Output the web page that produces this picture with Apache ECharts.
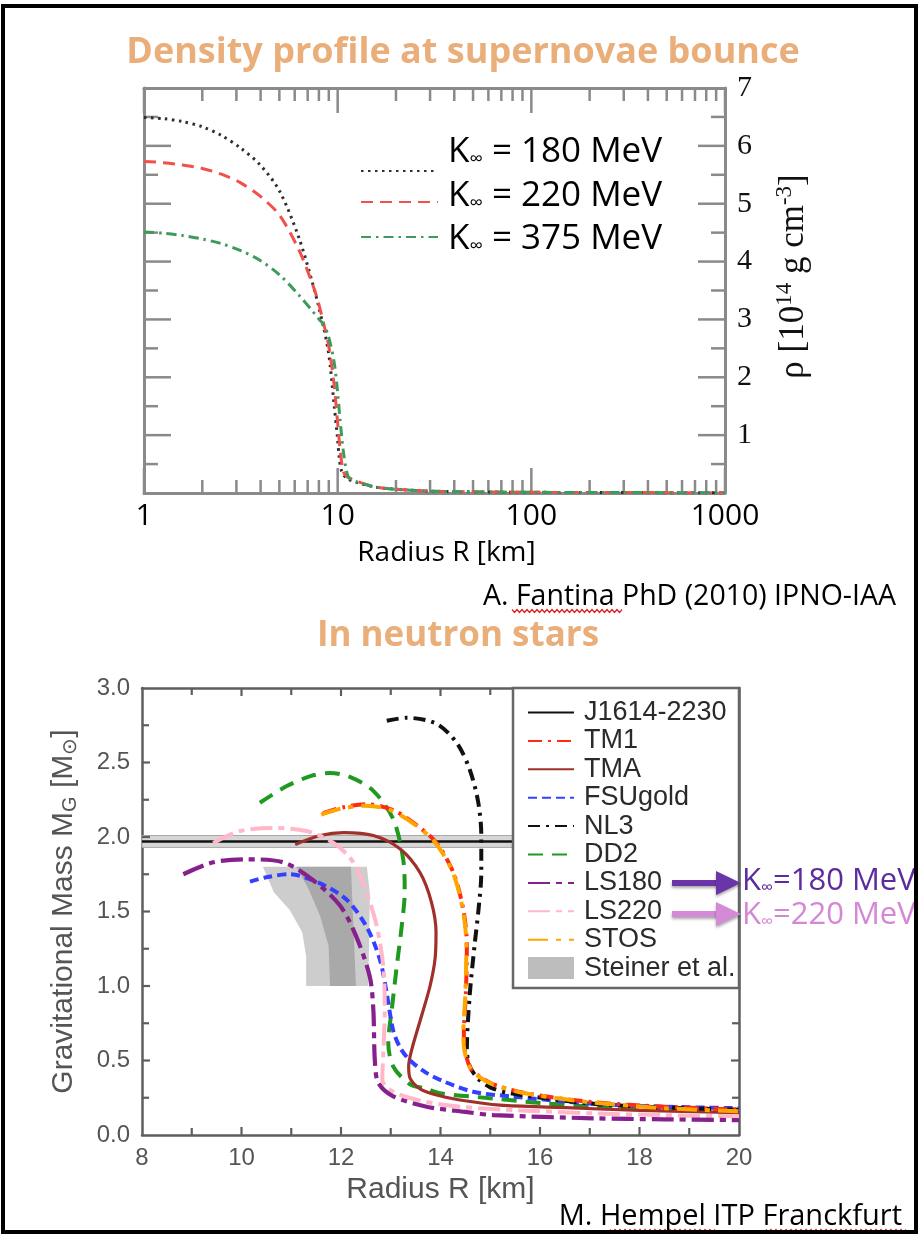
<!DOCTYPE html>
<html><head><meta charset="utf-8">
<script src="https://cdn.jsdelivr.net/npm/echarts@6/dist/echarts.min.js"></script>
<style>html,body{margin:0;padding:0;background:#fff}#c{width:921px;height:1237px}</style>
</head><body><div id="c"></div>
<script>
// ---------- DATA: top chart (density profile) ----------
const topLegendNames = ['K∞ = 180 MeV', 'K∞ = 220 MeV', 'K∞ = 375 MeV'];
const topXMajorTicks = [1, 10, 100, 1000];
const topXMinorTicks = [2,3,4,5,6,7,8,9,20,30,40,50,60,70,80,90,200,300,400,500,600,700,800,900];
const topYMajorTicks = [1, 2, 3, 4, 5, 6];
const topYMinorTicks = [0.5, 1.5, 2.5, 3.5, 4.5, 5.5, 6.5];
const rho180 = [[1,6.49],[1.26,6.47],[1.58,6.42],[2,6.33],[2.51,6.18],[3.16,5.96],[3.98,5.67],[5.01,5.22],[6.31,4.41],[7.43,3.62],[7.94,3.25],[8.49,2.84],[8.9,2.5],[9.18,2.16],[9.6,1.5],[9.95,1.0],[10.2,0.6],[10.5,0.37],[11.2,0.25],[12.6,0.18],[15.8,0.1],[20,0.065],[31.6,0.03],[100,0.012],[1000,0.005]];
const rho220 = [[1,5.73],[1.26,5.71],[1.58,5.67],[2,5.61],[2.51,5.51],[3.16,5.36],[3.98,5.13],[5.01,4.8],[6.31,4.2],[7.43,3.6],[7.94,3.3],[8.5,2.9],[8.9,2.62],[9.2,2.33],[9.6,1.85],[9.95,1.29],[10.3,0.75],[10.7,0.37],[11.2,0.28],[12.6,0.2],[15.8,0.1],[20,0.065],[31.6,0.03],[100,0.012],[1000,0.005]];
const rho375 = [[1,4.51],[1.26,4.49],[1.58,4.45],[2,4.39],[2.51,4.31],[3.16,4.19],[3.98,4.02],[5.01,3.77],[6.31,3.42],[7.43,3.14],[7.94,3.02],[8.5,2.9],[8.9,2.74],[9.2,2.56],[9.6,2.25],[9.95,1.81],[10.3,1.25],[10.7,0.72],[11.3,0.29],[12,0.22],[12.6,0.19],[15.8,0.1],[20,0.065],[31.6,0.03],[100,0.012],[1000,0.005]];

// ---------- DATA: bottom chart (mass-radius) ----------
const bottomNames = ['J1614-2230','TM1','TMA','FSUgold','NL3','DD2','LS180','LS220','STOS','Steiner et al.'];
const botXMajorTicks = [10, 12, 14, 16, 18];
const botXMinorTicks = [9, 11, 13, 15, 17, 19];
const botYMajorTicks = [0.5, 1.0, 1.5, 2.0, 2.5];
const botYMinorTicks = [0.25, 0.75, 1.25, 1.75, 2.25, 2.75];
const j1614Band = [1.93, 2.01];
const j1614Line = [[8, 1.97], [20, 1.97]];
const tm1 = [[11.64,2.16],[12.05,2.2],[12.52,2.22],[13.05,2.18],[13.52,2.08],[13.92,1.96],[14.26,1.76],[14.46,1.51],[14.53,1.27],[14.51,0.95],[14.47,0.68],[14.49,0.57],[14.6,0.45],[14.8,0.39],[15.06,0.34],[15.73,0.28],[17.07,0.22],[18.5,0.19],[20,0.17]];
const stos = [[11.6,2.15],[12.0,2.19],[12.5,2.21],[13.0,2.18],[13.5,2.08],[13.9,1.96],[14.25,1.76],[14.45,1.51],[14.52,1.27],[14.5,0.95],[14.46,0.68],[14.48,0.57],[14.58,0.46],[14.78,0.39],[15.05,0.34],[15.7,0.28],[17.0,0.22],[18.5,0.18],[20,0.16]];
const tma = [[11.08,1.95],[11.58,2.01],[12.05,2.03],[12.65,2.01],[13.19,1.92],[13.59,1.76],[13.82,1.56],[13.91,1.36],[13.89,1.18],[13.79,1.0],[13.62,0.8],[13.42,0.57],[13.36,0.46],[13.39,0.38],[13.59,0.31],[13.9,0.27],[14.39,0.235],[15.2,0.2],[16.4,0.185],[18,0.165],[20,0.15]];
const fsugold = [[10.17,1.70],[10.5,1.73],[10.97,1.75],[11.57,1.69],[12.11,1.58],[12.51,1.40],[12.78,1.18],[12.92,0.95],[13.05,0.70],[13.2,0.58],[13.39,0.5],[13.7,0.42],[14.06,0.36],[14.66,0.29],[15.39,0.26],[17.07,0.21],[18.5,0.19],[20,0.18]];
const nl3 = [[12.92,2.78],[13.32,2.80],[13.92,2.76],[14.33,2.63],[14.59,2.45],[14.76,2.23],[14.82,2.01],[14.82,1.76],[14.76,1.5],[14.69,1.29],[14.59,0.95],[14.53,0.57],[14.59,0.46],[14.75,0.38],[15.0,0.32],[15.4,0.28],[17.07,0.21],[18.5,0.185],[20,0.17]];
const dd2 = [[10.37,2.23],[10.9,2.34],[11.4,2.41],[11.78,2.43],[12.2,2.40],[12.65,2.31],[13.05,2.12],[13.25,1.85],[13.28,1.63],[13.22,1.40],[13.12,1.13],[13.02,0.84],[12.95,0.62],[13.05,0.46],[13.39,0.34],[13.72,0.31],[14.0,0.28],[15.06,0.245],[16,0.215],[17.07,0.19],[18.5,0.17],[20,0.155]];
const ls180 = [[8.83,1.75],[9.43,1.83],[10.10,1.85],[10.84,1.83],[11.44,1.71],[11.98,1.54],[12.31,1.33],[12.58,1.06],[12.65,0.84],[12.68,0.5],[12.75,0.35],[13.05,0.26],[13.72,0.19],[14.5,0.155],[15.06,0.134],[17.07,0.112],[18.5,0.105],[20,0.10]];
const ls220 = [[9.43,1.96],[9.97,2.04],[10.64,2.06],[11.31,2.04],[11.85,1.96],[12.25,1.83],[12.52,1.62],[12.72,1.40],[12.85,1.13],[12.88,0.84],[12.85,0.55],[12.83,0.37],[13.05,0.29],[13.6,0.23],[14.39,0.19],[15.6,0.165],[17.07,0.145],[18.5,0.133],[20,0.125]];
const steinerOuter = [[10.43,1.80],[12.52,1.80],[12.58,1.62],[12.55,1.00],[11.30,1.00],[11.30,1.20],[11.22,1.36],[10.97,1.51],[10.65,1.63]];
const steinerInner = [[11.10,1.80],[12.20,1.80],[12.30,1.00],[11.78,1.00],[11.75,1.27],[11.58,1.47],[11.35,1.65]];
const arrowLabels = ['K∞=180 MeV', 'K∞=220 MeV'];

// ---------- styling ----------
const ORANGE = '#E9AE7A';
const GT = '#8a8a8a';
const GB = '#5e5e5e';

function kText(s) { return '{k|' + s[0] + '}{s|' + s[1] + '}{t|' + s.slice(2) + '}'; }
function wave(x1, x2, y) {
  const pts = []; let up = true;
  for (let x = x1; x <= x2; x += 2.5) { pts.push([x, y + (up ? -1.5 : 1.5)]); up = !up; }
  return pts;
}

// tick specs: [x, y, direction(0 up,1 down,2 right,3 left), length px]
function tickSpecs(xMaj, xMin, yMaj, yMin, xr, yr, lx, sx, ly, sy) {
  const out = [];
  xMaj.forEach(v => { out.push([v, yr[0], 0, lx]); out.push([v, yr[1], 1, lx]); });
  xMin.forEach(v => { out.push([v, yr[0], 0, sx]); out.push([v, yr[1], 1, sx]); });
  yMaj.forEach(v => { out.push([xr[0], v, 2, ly]); out.push([xr[1], v, 3, ly]); });
  yMin.forEach(v => { out.push([xr[0], v, 2, sy]); out.push([xr[1], v, 3, sy]); });
  return out;
}
const topTicks = tickSpecs(topXMajorTicks, topXMinorTicks, topYMajorTicks, topYMinorTicks, [1, 1000], [0, 7], 25, 13, 27, 14);
const botTicks = tickSpecs(botXMajorTicks, botXMinorTicks, botYMajorTicks, botYMinorTicks, [8, 20], [0, 3], 8, 7, 8, 7);
const tickSeries = (specs, xi, yi, color, w) => ({
  type: 'custom', xAxisIndex: xi, yAxisIndex: yi, z: 1, silent: true, clip: false,
  data: specs.map(s => [s[0], s[1]]),
  renderItem: (params, api) => {
    const s = specs[params.dataIndex];
    const p = api.coord([s[0], s[1]]);
    const d = [[0, -1], [0, 1], [1, 0], [-1, 0]][s[2]];
    return {type: 'line', shape: {x1: p[0], y1: p[1], x2: p[0] + d[0] * s[3], y2: p[1] + d[1] * s[3]},
            style: {stroke: color, lineWidth: w}};
  }
});

const chart = echarts.init(document.getElementById('c'), null, {renderer: 'canvas'});

const topLine = (name, data, color, type, width) => ({
  name, type: 'line', xAxisIndex: 0, yAxisIndex: 0, data, symbol: 'none', showSymbol: false,
  smooth: 0.3, lineStyle: {color, type, width}, itemStyle: {color}, z: 3
});
const botLine = (name, data, color, type, width) => ({
  name, type: 'line', xAxisIndex: 2, yAxisIndex: 2, data, symbol: 'none', showSymbol: false,
  smooth: 0.3, lineStyle: {color, type, width}, itemStyle: {color}, z: 3
});
const noTick = {show: false};

const option = {
  animation: false,
  backgroundColor: '#fff',
  grid: [
    {left: 144, top: 88, width: 581, height: 405},
    {left: 142, top: 688, width: 597, height: 447}
  ],
  xAxis: [
    {gridIndex: 0, type: 'log', logBase: 10, min: 1, max: 1000, position: 'bottom',
     axisLine: {show: true, onZero: false, lineStyle: {color: GT, width: 3}}, axisTick: noTick, minorTick: noTick,
     axisLabel: {color: '#000', fontFamily: 'Open Sans', fontSize: 30, margin: 8, formatter: v => String(v)},
     splitLine: {show: false},
     name: 'Radius R [km]', nameLocation: 'middle', nameGap: 46,
     nameTextStyle: {color: '#000', fontFamily: 'Open Sans', fontSize: 28, padding: [0, 0, 0, 24]}},
    {gridIndex: 0, type: 'log', logBase: 10, min: 1, max: 1000, position: 'top',
     axisLine: {show: true, onZero: false, lineStyle: {color: GT, width: 3}}, axisTick: noTick, minorTick: noTick,
     axisLabel: {show: false}, splitLine: {show: false}},
    {gridIndex: 1, type: 'value', min: 8, max: 20, interval: 2, position: 'bottom',
     axisLine: {show: true, onZero: false, lineStyle: {color: GB, width: 2.5}}, axisTick: noTick, minorTick: noTick,
     axisLabel: {color: '#555', fontFamily: 'Liberation Sans', fontSize: 24, margin: 11},
     splitLine: {show: false},
     name: 'Radius R [km]', nameLocation: 'middle', nameGap: 40,
     nameTextStyle: {color: '#555', fontFamily: 'Liberation Sans', fontSize: 30}},
    {gridIndex: 1, type: 'value', min: 8, max: 20, interval: 2, position: 'top',
     axisLine: {show: true, onZero: false, lineStyle: {color: GB, width: 2.5}}, axisTick: noTick, minorTick: noTick,
     axisLabel: {show: false}, splitLine: {show: false}}
  ],
  yAxis: [
    {gridIndex: 0, type: 'value', min: 0, max: 7, interval: 1, position: 'right',
     axisLine: {show: true, onZero: false, lineStyle: {color: GT, width: 3}}, axisTick: noTick, minorTick: noTick,
     axisLabel: {color: '#111', fontFamily: 'Liberation Serif', fontSize: 30, margin: 12,
                 formatter: v => (v === 0 ? '' : String(v))},
     splitLine: {show: false},
     name: '{a|ρ [10}{s|14}{a| g cm}{s|-3}{a|]}', nameLocation: 'middle', nameRotate: 90, nameGap: 48,
     nameTextStyle: {color: '#111', padding: [0, 0, 0, 28], rich: {
       a: {fontFamily: 'Liberation Serif', fontSize: 35, color: '#111'},
       s: {fontFamily: 'Liberation Serif', fontSize: 23, color: '#111', padding: [0, 0, 18, 0]}}}},
    {gridIndex: 0, type: 'value', min: 0, max: 7, interval: 1, position: 'left',
     axisLine: {show: true, onZero: false, lineStyle: {color: GT, width: 3}}, axisTick: noTick, minorTick: noTick,
     axisLabel: {show: false}, splitLine: {show: false}},
    {gridIndex: 1, type: 'value', min: 0, max: 3, interval: 0.5, position: 'left',
     axisLine: {show: true, onZero: false, lineStyle: {color: GB, width: 2.5}}, axisTick: noTick, minorTick: noTick,
     axisLabel: {color: '#555', fontFamily: 'Liberation Sans', fontSize: 24, margin: 12, formatter: v => v.toFixed(1)},
     splitLine: {show: false},
     name: '{a|Gravitational Mass M}{b|G}{a| [M}{b|⊙}{a|]}', nameLocation: 'middle', nameRotate: 90, nameGap: 62,
     nameTextStyle: {color: '#555', rich: {
       a: {fontFamily: 'Liberation Sans', fontSize: 30, color: '#555'},
       b: {fontFamily: 'Liberation Sans', fontSize: 20, color: '#555', padding: [13, 0, 0, 0]}}}},
    {gridIndex: 1, type: 'value', min: 0, max: 3, interval: 0.5, position: 'right',
     axisLine: {show: true, onZero: false, lineStyle: {color: GB, width: 2.5}}, axisTick: noTick, minorTick: noTick,
     axisLabel: {show: false}, splitLine: {show: false}}
  ],
  legend: [
    {data: [topLegendNames[0]], left: 360, top: 166, padding: 0, itemWidth: 77, itemHeight: 10, formatter: () => '', selectedMode: false, itemStyle: {opacity: 0}},
    {data: [topLegendNames[1]], left: 360, top: 197, padding: 0, itemWidth: 77, itemHeight: 10, formatter: () => '', selectedMode: false, itemStyle: {opacity: 0}},
    {data: [topLegendNames[2]], left: 360, top: 232, padding: 0, itemWidth: 77, itemHeight: 10, formatter: () => '', selectedMode: false, itemStyle: {opacity: 0}},
    {orient: 'vertical', left: 527, top: 699, padding: 0, itemWidth: 46, itemHeight: 22, itemGap: 1.4, z: 10,
     selectedMode: false, itemStyle: {opacity: 0},
     data: bottomNames.map(n => (n === 'Steiner et al.' ? {name: n, icon: 'rect', itemStyle: {opacity: 1, color: '#BDBDBD'}} : n)),
     textStyle: {fontFamily: 'Liberation Sans', fontSize: 27, color: '#2a2a2a', padding: [0, 0, 0, 5]}}
  ],
  series: [
    tickSeries(topTicks, 0, 0, GT, 2.5),
    tickSeries(botTicks, 2, 2, GB, 2.2),
    topLine(topLegendNames[0], rho180, '#2e2e2e', [2.5, 4.5], 3),
    topLine(topLegendNames[1], rho220, '#F2504A', [12, 7], 3),
    topLine(topLegendNames[2], rho375, '#3E9B5E', [10, 5, 2.5, 5], 3),
    {name: 'J1614-2230', type: 'line', xAxisIndex: 2, yAxisIndex: 2, data: j1614Line, symbol: 'none',
     lineStyle: {color: '#111', width: 2.5}, itemStyle: {color: '#111'}, z: 2,
     markArea: {silent: true, itemStyle: {color: '#d6d6d6', borderColor: '#a8a8a8', borderWidth: 1},
                data: [[{yAxis: j1614Band[0]}, {yAxis: j1614Band[1]}]]}},
    {name: 'Steiner et al.', type: 'custom', xAxisIndex: 2, yAxisIndex: 2, z: 2,
     itemStyle: {color: '#BDBDBD'},
     data: [[steinerOuter[0][0], steinerOuter[0][1]], [steinerInner[0][0], steinerInner[0][1]]],
     renderItem: (params, api) => {
       const poly = params.dataIndex === 0 ? steinerOuter : steinerInner;
       return {type: 'polygon', shape: {points: poly.map(p => api.coord(p))},
               style: {fill: params.dataIndex === 0 ? '#CDCDCD' : '#A9A9A9'}};
     }},
    botLine('DD2', dd2, '#1F9A1F', [15, 9], 4),
    botLine('TMA', tma, '#A0302A', 'solid', 3.2),
    botLine('FSUgold', fsugold, '#3340FF', [9, 5], 4),
    botLine('LS220', ls220, '#FFB7C9', [22, 6, 6, 6], 4),
    botLine('LS180', ls180, '#86208C', [22, 6, 6, 6], 4.2),
    botLine('NL3', nl3, '#111111', [12, 6, 3, 6], 4),
    botLine('TM1', tm1, '#FF2A10', [14, 6, 3, 6], 4),
    botLine('STOS', stos, '#FFA500', [20, 8, 5, 8], 4)
  ],
  graphic: [
    {type: 'rect', z: 100, shape: {x: 3, y: 6, width: 913, height: 1226},
     style: {fill: null, stroke: '#000', lineWidth: 4}},
    {type: 'text', z: 50, x: 463, y: 53, style: {text: 'Density profile at supernovae bounce', fill: ORANGE,
      font: 'bold 36px "Open Sans"', align: 'center', verticalAlign: 'middle'}},
    {type: 'text', z: 50, x: 458, y: 636, style: {text: 'In neutron stars', fill: ORANGE,
      font: 'bold 35px "Open Sans"', align: 'center', verticalAlign: 'middle'}},
    {type: 'text', z: 50, x: 896, y: 597, style: {text: 'A. Fantina PhD (2010) IPNO-IAA', fill: '#000',
      font: '28.5px "Open Sans"', align: 'right', verticalAlign: 'middle'}},
    {type: 'polyline', z: 50, shape: {points: wave(512, 622, 611)}, style: {stroke: '#E02020', lineWidth: 1.2, fill: null}},
    {type: 'text', z: 50, x: 902, y: 1217, style: {text: 'M. Hempel ITP Franckfurt', fill: '#000',
      font: '29px "Open Sans"', align: 'right', verticalAlign: 'middle'}},
    {type: 'polyline', z: 50, shape: {points: wave(610, 716, 1231)}, style: {stroke: '#E02020', lineWidth: 1.2, fill: null}},
    {type: 'polyline', z: 50, shape: {points: wave(766, 906, 1231)}, style: {stroke: '#E02020', lineWidth: 1.2, fill: null}},
    ...topLegendNames.map((n, i) => ({type: 'text', z: 50, x: 448, y: [152, 196, 239][i], style: {
      text: kText(n), verticalAlign: 'middle', rich: {
        k: {fontFamily: 'Open Sans', fontSize: 35, fill: '#000'},
        s: {fontFamily: 'Open Sans', fontSize: 19, fill: '#000', padding: [16, 0, 0, 0]},
        t: {fontFamily: 'Open Sans', fontSize: 35, fill: '#000'}}}})),
    {type: 'rect', z: 3, shape: {x: 513, y: 688, width: 226, height: 300},
     style: {fill: '#fff', stroke: '#666', lineWidth: 2.5}},
    {type: 'rect', z: 50, shape: {x: 672, y: 880, width: 50, height: 6}, style: {fill: '#6A35A8', shadowBlur: 3, shadowColor: 'rgba(0,0,0,0.35)', shadowOffsetY: 2}},
    {type: 'polygon', z: 50, shape: {points: [[716, 871], [741, 883], [716, 895]]}, style: {fill: '#6A35A8', shadowBlur: 3, shadowColor: 'rgba(0,0,0,0.35)', shadowOffsetY: 2}},
    {type: 'rect', z: 50, shape: {x: 672, y: 911, width: 50, height: 6}, style: {fill: '#D58AD8', shadowBlur: 3, shadowColor: 'rgba(0,0,0,0.35)', shadowOffsetY: 2}},
    {type: 'polygon', z: 50, shape: {points: [[716, 902], [741, 914], [716, 926]]}, style: {fill: '#D58AD8', shadowBlur: 3, shadowColor: 'rgba(0,0,0,0.35)', shadowOffsetY: 2}},
    ...arrowLabels.map((n, i) => {
      const col = i === 0 ? '#5C2C9E' : '#D587D6';
      return {type: 'text', z: 50, x: 742, y: [881, 915][i], style: {
        text: kText(n), verticalAlign: 'middle', rich: {
          k: {fontFamily: 'Open Sans', fontSize: 31, fill: col},
          s: {fontFamily: 'Open Sans', fontSize: 17, fill: col, padding: [14, 0, 0, 0]},
          t: {fontFamily: 'Open Sans', fontSize: 31, fill: col}}}};
    })
  ]
};
chart.setOption(option);
</script>
</body></html>
